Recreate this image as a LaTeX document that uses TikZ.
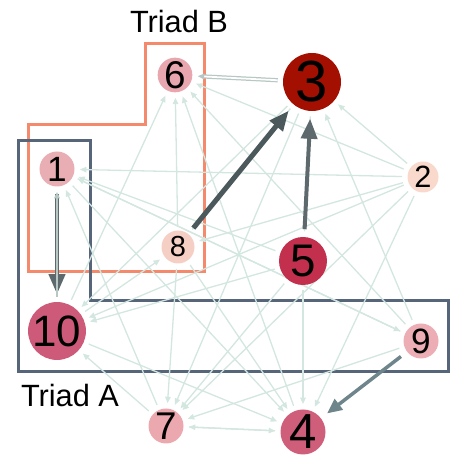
\documentclass[tikz,border=0pt]{standalone}
\usepackage{fontspec}
\setmainfont{Liberation Sans}
\usepackage{xcolor}
\usepackage{tikz}
\usetikzlibrary{arrows.meta}
\pgfdeclarelayer{under}
\pgfsetlayers{under,main}

\definecolor{boxB}{HTML}{F4896B}
\definecolor{boxA}{HTML}{56657A}
\definecolor{edgelight}{HTML}{D3E6E0}
\definecolor{edgepale}{HTML}{B7C8C4}
\definecolor{edgedark}{HTML}{4B585C}
\definecolor{edgemid}{HTML}{6E858B}
\definecolor{c1}{HTML}{E8AEB3}
\definecolor{c2}{HTML}{F8D9CC}
\definecolor{c3}{HTML}{A30F00}
\definecolor{c4}{HTML}{CF5E7A}
\definecolor{c5}{HTML}{C2304E}
\definecolor{c6}{HTML}{E8A6AE}
\definecolor{c7}{HTML}{EBA8AF}
\definecolor{c8}{HTML}{F6CFC4}
\definecolor{c9}{HTML}{ECAEB4}
\definecolor{c10}{HTML}{CE5A79}

\begin{document}
\begin{tikzpicture}[
  x=0.2mm, y=-0.2mm,
  vert/.style={circle, inner sep=0pt, text=black},
  triad/.style={line width=0.6mm, line join=miter},
  lab/.style={font=\fontsize{17.5}{17.5}\selectfont, inner sep=0pt},
  faint/.style={edgelight, line width=0.26mm, -{Triangle[length=1.3mm, width=1.1mm]},
                shorten >=1mm, shorten <=1mm},
  heavy/.style={edgedark, line width=1mm, -{Triangle[length=4mm, width=3.2mm]},
                shorten >=1.5mm, shorten <=1.5mm},
  medium/.style={heavy, edgemid, line width=0.7mm, -{Triangle[length=3mm, width=2.6mm]}}
]
\useasboundingbox (0,0) rectangle (465,463);
% ----- vertices -----
\node[vert, fill=c6,  minimum size=6.8mm,  font=\fontsize{22}{22}\selectfont] (n6)  at (175,75)  {6};
\node[vert, fill=c3,  minimum size=11.6mm, font=\fontsize{33}{33}\selectfont] (n3)  at (312,82)  {3};
\node[vert, fill=c1,  minimum size=7mm,    font=\fontsize{20}{20}\selectfont] (n1)  at (57,169)  {1};
\node[vert, fill=c2,  minimum size=6.2mm,  font=\fontsize{17.5}{17.5}\selectfont] (n2)  at (423,177) {2};
\node[vert, fill=c8,  minimum size=6.6mm,  font=\fontsize{16.5}{16.5}\selectfont] (n8)  at (178,247) {8};
\node[vert, fill=c5,  minimum size=9.6mm,  font=\fontsize{26}{26}\selectfont] (n5)  at (303,261) {5};
\node[vert, fill=c10, minimum size=9mm,    font=\fontsize{25}{25}\selectfont] (n10) at (57,331)  {10};
\node[vert, fill=c9,  minimum size=7mm,    font=\fontsize{20}{20}\selectfont] (n9)  at (421,341) {9};
\node[vert, fill=c7,  minimum size=7mm,    font=\fontsize{22}{22}\selectfont] (n7)  at (166,426) {7};
\node[vert, fill=c4,  minimum size=9mm,    font=\fontsize{28}{28}\selectfont] (n4)  at (303,432) {4};
\begin{pgfonlayer}{under}
% ----- triad outlines -----
\draw[triad, boxB] (145,44) -- (204,44) -- (204,272) -- (28,272) -- (28,125) -- (145,125) -- cycle;
\draw[triad, boxA] (18,141) -- (90,141) -- (90,301) -- (448,301) -- (448,372) -- (18,372) -- cycle;
% ----- faint edges -----
\foreach \a/\b in {n2/n1, n9/n1, n7/n1, n5/n1, n10/n6, n8/n6, n4/n6, n2/n6, n9/n6,
                   n2/n3, n9/n3, n3/n8, n3/n5, n3/n7, n2/n7, n9/n7, n8/n7, n4/n7, n5/n7,
                   n2/n4, n5/n4, n10/n4, n7/n4, n8/n4, n1/n4, n2/n10, n7/n10, n3/n10,
                   n5/n10, n2/n8, n10/n8, n1/n9}{\draw[faint] (\a) -- (\b);}
% ----- strong edges -----
\draw[faint, edgepale, double=white, double distance=0.35mm, line width=0.25mm] (n3) -- (n6);
\draw[heavy] (n8) -- (n3);
\draw[heavy, line width=0.8mm, edgedark!90!white] (n5) -- (n3);
\draw[heavy, line width=0.8mm, edgedark!90!white] (n1) -- (n10);
\draw[faint, edgepale, line width=0.3mm] (n10) -- (n1);
\draw[medium] (n9) -- (n4);
\end{pgfonlayer}
% ----- labels -----
\node[lab] (tb) at (179,22)  {Triad B};
\node[lab] (ta) at (70,396)  {Triad A};
\end{tikzpicture}
\end{document}
